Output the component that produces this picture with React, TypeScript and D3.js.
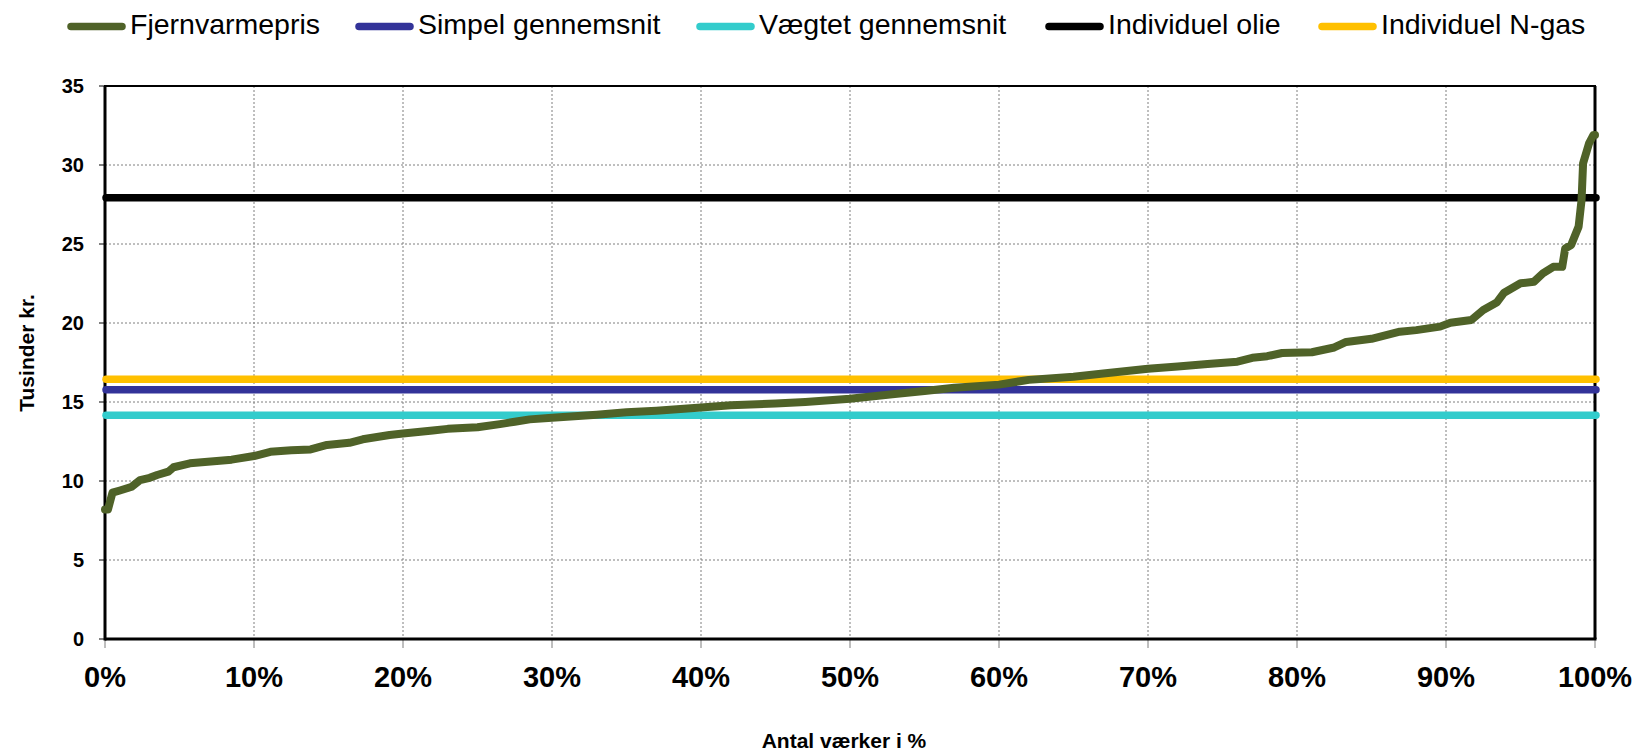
import React from "react";
import * as d3 from "d3";

// ---- Data ----
const seriesNames = ["Fjernvarmepris", "Simpel gennemsnit", "Vægtet gennemsnit", "Individuel olie", "Individuel N-gas"];
const seriesColors = ["#4F6228", "#333399", "#33CCCC", "#000000", "#FFC000"];

// Fjernvarmepris: sorted price curve (pct of plants, thousand kr.)
const pricePct = [0, 0.2, 0.5, 1.0, 1.8, 2.35, 3.0, 3.5, 4.25, 4.6, 5.7, 7.5, 8.5, 10.0, 11.1, 12.5, 13.8, 14.9, 16.4, 17.3, 19.1, 20, 22, 23, 25, 26.5, 27.5, 28.5, 30, 33, 35, 37, 40, 42, 45, 47, 50, 53, 55, 57, 60, 62, 65, 67, 70, 72, 74, 76, 77, 78, 79, 81, 82.5, 83.3, 85, 86.9, 88, 89.6, 90.3, 91.7, 92.5, 93.4, 93.9, 95.0, 95.9, 96.5, 97.2, 97.8, 98.0, 98.4, 98.9, 99.1, 99.2, 99.6, 99.9, 100];
const priceVal = [8.2, 8.2, 9.26, 9.4, 9.64, 10.06, 10.2, 10.38, 10.59, 10.87, 11.12, 11.27, 11.35, 11.58, 11.85, 11.95, 12.0, 12.28, 12.42, 12.64, 12.91, 13.0, 13.2, 13.3, 13.4, 13.6, 13.75, 13.9, 14.0, 14.2, 14.35, 14.45, 14.65, 14.8, 14.9, 15.0, 15.2, 15.5, 15.7, 15.9, 16.1, 16.4, 16.6, 16.8, 17.1, 17.25, 17.4, 17.55, 17.8, 17.9, 18.1, 18.15, 18.45, 18.8, 19.0, 19.45, 19.55, 19.77, 20.02, 20.19, 20.82, 21.29, 21.92, 22.51, 22.61, 23.14, 23.56, 23.56, 24.72, 24.94, 26.1, 27.8, 30.1, 31.37, 31.9, 31.9];

// Constant reference lines: Simpel, Vægtet, Olie, N-gas
const refValues = [15.78, 14.16, 27.93, 16.44];

const yTicks = [0, 5, 10, 15, 20, 25, 30, 35];
const xTicks = [0, 10, 20, 30, 40, 50, 60, 70, 80, 90, 100];
const yTitle = "Tusinder kr.";
const xTitle = "Antal værker i %";

// ---- Layout ----
const W = 1642;
const H = 755;
const left = 105, right = 1595, top = 86, bottom = 639;
const FONT = "'Liberation Sans', Arial, Helvetica, sans-serif";

export default function App() {
  const x = d3.scaleLinear().domain([0, 100]).range([left, right]);
  const y = d3.scaleLinear().domain([0, 35]).range([bottom, top]);

  const pts: [number, number][] = pricePct.map((p, i) => [p, priceVal[i]]);
  const line = d3.line<[number, number]>().x((d) => x(d[0])).y((d) => y(d[1]));

  const legendTextX = [130, 418, 759, 1108, 1381];
  // draw order of reference lines: olie, cyan, blue, yellow
  const refOrder = [2, 1, 0, 3];

  return (
    <svg width={W} height={H} style={{ position: "absolute", left: 0, top: 0, display: "block", background: "#fff" }}>
      {/* Legend */}
      {seriesNames.map((n, i) => (
        <g key={n}>
          <line x1={legendTextX[i] - 59} x2={legendTextX[i] - 8} y1={26.5} y2={26.5} stroke={seriesColors[i]} strokeWidth={7.5} strokeLinecap="round" />
          <text x={legendTextX[i]} y={34} fontFamily={FONT} fontSize={28.5} fill="#000">{n}</text>
        </g>
      ))}

      {/* Gridlines */}
      {yTicks.filter((t) => t > 0 && t < 35).map((t) => (
        <line key={"gy" + t} x1={left} x2={right} y1={y(t)} y2={y(t)} stroke="#7f7f7f" strokeWidth={1} strokeDasharray="2,2" />
      ))}
      {xTicks.filter((t) => t > 0 && t < 100).map((t) => (
        <line key={"gx" + t} x1={x(t)} x2={x(t)} y1={top} y2={bottom} stroke="#7f7f7f" strokeWidth={1} strokeDasharray="2,2" />
      ))}
      {/* x tick marks */}
      {xTicks.map((t) => (
        <line key={"tx" + t} x1={x(t)} x2={x(t)} y1={bottom} y2={bottom + 9} stroke="#7f7f7f" strokeWidth={1} />
      ))}
      {/* y tick marks */}
      {yTicks.map((t) => (
        <line key={"ty" + t} x1={left - 6} x2={left} y1={y(t)} y2={y(t)} stroke="#000" strokeWidth={1} />
      ))}

      {/* Frame */}
      <rect x={left} y={top} width={right - left} height={bottom - top} fill="none" stroke="#000" strokeWidth={2} />
      <line x1={left} x2={left} y1={top} y2={bottom + 1.5} stroke="#000" strokeWidth={3} />
      <line x1={left} x2={right + 1.5} y1={bottom} y2={bottom} stroke="#000" strokeWidth={3} />
      <line x1={right} x2={right} y1={top} y2={bottom} stroke="#000" strokeWidth={3} />

      {/* Reference lines */}
      {refOrder.map((k) => (
        <line key={"ref" + k} x1={x(0) + 1} x2={x(100) + 1} y1={y(refValues[k])} y2={y(refValues[k])} stroke={seriesColors[k + 1]} strokeWidth={7.5} strokeLinecap="round" />
      ))}

      {/* Price curve */}
      <path d={line(pts) || ""} fill="none" stroke={seriesColors[0]} strokeWidth={8} strokeLinejoin="round" strokeLinecap="round" />

      {/* Y tick labels */}
      {yTicks.map((t) => (
        <text key={"yl" + t} x={84} y={y(t)} dy="0.35em" textAnchor="end" fontFamily={FONT} fontWeight="bold" fontSize={20} fill="#000">{t}</text>
      ))}
      {/* X tick labels */}
      {xTicks.map((t) => (
        <text key={"xl" + t} x={x(t)} y={687} textAnchor="middle" fontFamily={FONT} fontWeight="bold" fontSize={29} fill="#000">{t + "%"}</text>
      ))}

      {/* Axis titles */}
      <text x={844} y={748} textAnchor="middle" fontFamily={FONT} fontWeight="bold" fontSize={21} fill="#000">{xTitle}</text>
      <text transform={`translate(34,353) rotate(-90)`} textAnchor="middle" fontFamily={FONT} fontWeight="bold" fontSize={21} fill="#000">{yTitle}</text>
    </svg>
  );
}
